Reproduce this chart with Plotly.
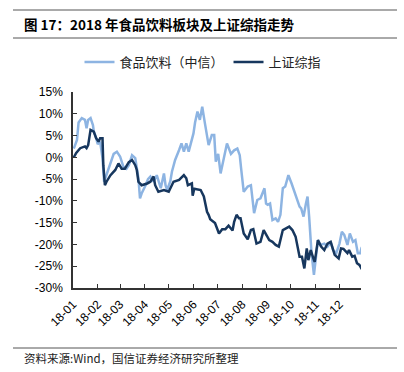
import pandas as pd
import plotly.graph_objects as go

# Day offsets from 2018-01-01 and cumulative change (%)
food_days = [1, 4, 5, 7, 11, 15, 17, 19, 22, 25, 26, 29, 31, 34, 37, 39, 42, 47, 51, 55, 59, 63, 67, 70, 74,
             78, 82, 84, 86, 91, 94, 97, 101, 105, 110, 114, 116, 118, 122, 124, 128, 133, 136, 139, 142,
             145, 149, 151, 153, 156, 159, 162, 165, 167, 170, 174, 177, 179, 182, 185, 189, 193, 198, 202,
             206, 209, 211, 214, 219, 223, 227, 231, 235, 240, 242, 244, 247, 250, 254, 257, 260, 263, 266,
             270, 274, 277, 281, 284, 286, 289, 292, 294, 296, 299, 302, 305, 307, 310, 315, 319, 323, 326,
             330, 334, 337, 340, 344, 347, 351, 354, 357, 360, 362]
food_vals = [2.0, 3.5, 4.0, 8.0, 9.0, 8.6, 6.7, 8.6, 9.0, 7.4, 6.0, 4.4, 3.0, 3.6, -0.2, -5.6, -4.1, -1.4, 0.8,
             1.3, 0.2, -2.1, -2.6, -1.8, 0.5, -0.2, -4.8, -9.4, -8.3, -6.4, -5.0, -4.4, -5.6, -4.1, -7.1,
             -3.7, -6.4, -7.5, -5.5, -3.3, -0.6, 1.7, 3.2, 1.3, 3.2, 1.3, 4.4, 5.5, 8.0, 10.5, 8.6, 11.6,
             8.2, 6.0, 2.8, 5.1, 5.1, -1.0, 0.8, -3.7, -0.2, 3.2, 0.8, 1.6, 2.0, 0.5, -3.0, -7.9, -6.7, -6.4,
             -12.8, -9.8, -9.4, -7.1, -10.6, -10.9, -10.6, -14.4, -14.0, -14.8, -13.2, -7.1, -6.7, -4.1,
             -6.0, -7.5, -9.8, -11.3, -11.7, -13.6, -10.6, -9.0, -13.6, -22.0, -27.0, -21.3, -19.0, -20.1,
             -19.8, -20.5, -19.4, -21.3, -22.0, -19.8, -17.1, -17.8, -20.1, -17.5, -19.4, -19.0, -22.0,
             -22.0, -20.6]

sh_days = [1, 4, 9, 15, 17, 19, 22, 26, 29, 32, 34, 37, 38, 40, 42, 47, 53, 57, 61, 65, 70, 74, 78, 80, 82,
           86, 93, 97, 101, 103, 107, 114, 120, 126, 133, 139, 142, 144, 149, 150, 152, 156, 160, 164, 168,
           170, 172, 178, 183, 187, 191, 195, 200, 202, 205, 208, 210, 214, 219, 223, 226, 230, 235, 239,
           242, 246, 250, 254, 258, 263, 267, 271, 275, 279, 284, 287, 290, 293, 295, 298, 302, 303, 307,
           311, 315, 319, 323, 328, 333, 336, 339, 344, 346, 350, 353, 356, 359, 362]
sh_vals = [0.0, 1.0, 2.1, 2.5, 2.1, 2.8, 6.3, 5.9, 4.4, 3.6, 4.4, 4.4, -1.8, -6.4, -5.6, -4.1, -2.9, -1.4,
           -2.6, -2.6, -1.1, -0.6, -1.8, -2.9, -5.6, -6.4, -6.0, -5.6, -4.4, -6.4, -7.9, -7.5, -7.9, -5.6,
           -5.2, -4.1, -4.8, -6.4, -6.0, -8.8, -7.2, -7.3, -7.5, -9.0, -12.5, -13.2, -14.2, -15.1, -17.5,
           -16.5, -16.5, -15.7, -16.8, -14.8, -13.2, -14.0, -14.0, -17.5, -18.8, -16.7, -16.5, -19.8,
           -19.4, -16.7, -17.8, -19.0, -19.4, -20.1, -20.5, -16.7, -16.3, -15.9, -16.7, -18.2, -22.8,
           -22.8, -25.5, -20.9, -23.6, -21.3, -23.6, -24.0, -19.0, -20.5, -21.3, -19.8, -19.4, -22.4,
           -23.2, -20.9, -21.0, -22.0, -21.3, -22.8, -22.6, -24.3, -24.7, -25.7]

series_names = ["食品饮料（中信）", "上证综指"]
y_ticks = [15, 10, 5, 0, -5, -10, -15, -20, -25, -30]
y_tick_labels = [f"{v}%" for v in y_ticks]

base = pd.Timestamp("2018-01-01")
food_dates = [base + pd.Timedelta(days=d) for d in food_days]
sh_dates = [base + pd.Timedelta(days=d) for d in sh_days]

fig = go.Figure()
fig.add_trace(go.Scatter(x=food_dates, y=food_vals, mode="lines", name=series_names[0],
                         line=dict(color="#8DB4E2", width=2.5)))
fig.add_trace(go.Scatter(x=sh_dates, y=sh_vals, mode="lines", name=series_names[1],
                         line=dict(color="#17375E", width=2.5)))

W, H = 404, 372
L, R, T, B = 73, 43, 92, 84
pw, ph = W - L - R, H - T - B

def px(x):
    return (x - L) / pw

def py(y):
    return (H - B - y) / ph

fig.update_layout(
    width=W, height=H,
    margin=dict(l=L, r=R, t=T, b=B, autoexpand=False),
    paper_bgcolor="white", plot_bgcolor="white",
    font=dict(family="Liberation Sans, Arial, sans-serif", color="#000000", size=12),
    showlegend=True,
    legend=dict(orientation="h", x=px(203), xanchor="center", y=py(62), yanchor="middle",
                font=dict(family="Noto Sans CJK SC", size=13, color="#222"),
                bgcolor="rgba(0,0,0,0)", itemwidth=30, tracegroupgap=0),
    xaxis=dict(type="date", range=["2018-01-01", "2018-12-28"], tickformat="%y-%m", dtick="M1",
               tick0="2018-01-01", tickangle=-45, ticks="inside", ticklen=4, tickcolor="#333",
               showline=True, linecolor="#333", linewidth=1.5, showgrid=False, zeroline=False,
               tickfont=dict(size=12), automargin=False, ticklabelstandoff=3),
    yaxis=dict(range=[-30, 15], tickvals=y_ticks, ticktext=y_tick_labels, ticks="inside",
               ticklen=4, tickcolor="#333", showline=True, linecolor="#333", linewidth=1.5,
               showgrid=False, zeroline=False, tickfont=dict(size=12), automargin=False,
               ticklabelstandoff=6),
)

for yy in (10, 38, 348):
    fig.add_shape(type="line", xref="paper", yref="paper", x0=px(13), x1=px(397), y0=py(yy), y1=py(yy),
                  line=dict(color="#555", width=1))

fig.add_annotation(xref="paper", yref="paper", x=px(22), y=py(24), xanchor="left", yanchor="middle",
                   text="<b>图 17：2018 年食品饮料板块及上证综指走势</b>", showarrow=False,
                   font=dict(family="Noto Sans CJK SC", size=13.5, color="#000"))
fig.add_annotation(xref="paper", yref="paper", x=px(22), y=py(358), xanchor="left", yanchor="middle",
                   text="资料来源:Wind，国信证券经济研究所整理", showarrow=False,
                   font=dict(family="Noto Sans CJK SC", size=11.5, color="#222"))

fig.write_html("out.html", config={"displayModeBar": False},
               post_script="document.body.style.margin='0px';")
